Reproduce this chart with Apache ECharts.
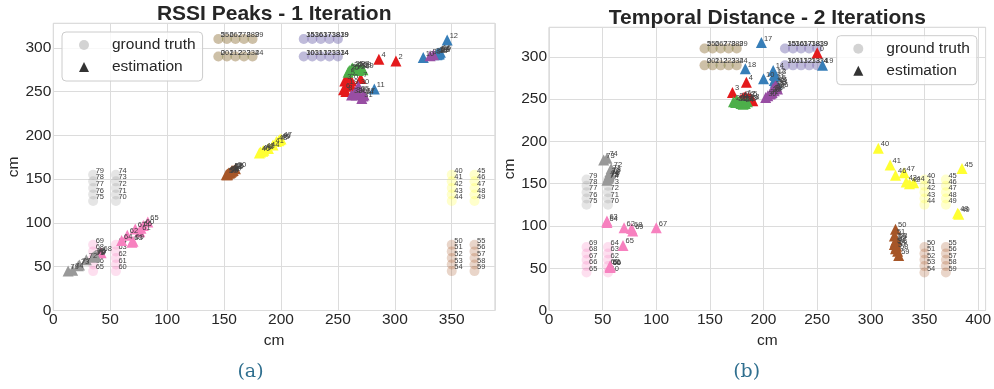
<!DOCTYPE html>
<html>
<head>
<meta charset="utf-8">
<script src="https://cdn.jsdelivr.net/npm/echarts@6/dist/echarts.min.js"></script>
<style>
  html, body { margin: 0; padding: 0; background: #ffffff; }
  #chart { width: 994px; height: 389px; }
</style>
</head>
<body>
<div id="chart"></div>
<script>
// Ground-truth positions (cm) of points 0..79
const gtX = [
  145, 152.5, 160, 167.5, 175,   145, 152.5, 160, 167.5, 175,
  220, 227.5, 235, 242.5, 250,   220, 227.5, 235, 242.5, 250,
  145, 152.5, 160, 167.5, 175,   145, 152.5, 160, 167.5, 175,
  220, 227.5, 235, 242.5, 250,   220, 227.5, 235, 242.5, 250,
  350, 350, 350, 350, 350,       370, 370, 370, 370, 370,
  350, 350, 350, 350, 350,       370, 370, 370, 370, 370,
  55, 55, 55, 55, 55,            35, 35, 35, 35, 35,
  55, 55, 55, 55, 55,            35, 35, 35, 35, 35
];
const gtY = [
  290, 290, 290, 290, 290,       310, 310, 310, 310, 310,
  290, 290, 290, 290, 290,       310, 310, 310, 310, 310,
  290, 290, 290, 290, 290,       310, 310, 310, 310, 310,
  290, 290, 290, 290, 290,       310, 310, 310, 310, 310,
  155, 147.5, 140, 132.5, 125,   155, 147.5, 140, 132.5, 125,
  75, 67.5, 60, 52.5, 45,        75, 67.5, 60, 52.5, 45,
  45, 52.5, 60, 67.5, 75,        45, 52.5, 60, 67.5, 75,
  125, 132.5, 140, 147.5, 155,   125, 132.5, 140, 147.5, 155
];

// Estimated positions (cm), RSSI peaks, 1 iteration
const rssiX = [
  262, 258, 301, 256, 286, 259, 255, 270, 257, 262,
  325, 282, 346, 338, 339, 337, 340, 338, 339, 337,
  259, 260, 262, 265, 268, 263, 266, 268, 270, 272,
  268, 271, 262, 264, 272, 268, 266, 273, 334, 331,
  181, 193, 185, 184, 189, 198, 199, 200, 196, 182,
  160, 157, 155, 153, 156, 158, 154, 152, 157, 153,
  79, 76, 65, 69, 60, 83, 77, 72, 42, 70,
  37, 35, 29, 22, 17, 37, 36, 23, 36, 13
];
const rssiY = [
  262, 257, 285, 262, 287, 267, 252, 265, 250, 256,
  289, 253, 309, 293, 294, 292, 295, 294, 293, 293,
  272, 274, 276, 275, 274, 277, 276, 277, 276, 275,
  256, 242, 246, 247, 245, 249, 246, 246, 292, 291,
  180, 189, 183, 182, 185, 194, 195, 196, 193, 181,
  162, 159, 157, 156, 158, 160, 157, 155, 160, 155,
  97, 90, 86, 78, 80, 101, 94, 93, 66, 79,
  62, 61, 58, 51, 46, 63, 62, 52, 61, 45
];

// Estimated positions (cm), temporal distance, 2 iterations
const tempX = [
  250, 183, 186, 171, 184, 188, 179, 181, 190, 185,
  200, 210, 210, 211, 209, 212, 211, 198, 183, 255,
  172, 174, 176, 179, 181, 175, 177, 180, 183, 185,
  202, 204, 206, 208, 210, 212, 213, 209, 207, 211,
  307, 318, 336, 333, 340, 385, 323, 331, 381, 382,
  323, 322, 323, 324, 322, 323, 324, 323, 325, 326,
  57, 57, 70, 54, 54, 69, 57, 100, 77, 78,
  56, 57, 58, 51, 54, 55, 56, 54, 57, 55
];
const tempY = [
  305, 253, 252, 258, 270, 251, 250, 252, 248, 250,
  274, 272, 279, 278, 284, 268, 270, 317, 286, 290,
  247, 246, 246, 245, 244, 249, 247, 246, 245, 247,
  252, 254, 256, 258, 260, 265, 262, 263, 257, 266,
  192, 172, 150, 152, 151, 168, 160, 163, 115, 114,
  96, 88, 80, 84, 78, 82, 76, 73, 70, 65,
  52, 53, 98, 106, 104, 77, 51, 98, 97, 94,
  160, 164, 168, 178, 180, 156, 158, 154, 162, 157
];

const legendNames = ['ground truth', 'estimation'];
const titles = ['RSSI Peaks - 1 Iteration', 'Temporal Distance - 2 Iterations'];
const captions = ['(a)', '(b)'];

// one colour per group of ten points
const groupColors = ['#e41a1c', '#377eb8', '#4daf4a', '#984ea3', '#ffff33', '#a65628', '#f781bf', '#999999'];

const FONT = '"Liberation Sans", Arial, sans-serif';
const INK = '#262626';

const chart = echarts.init(document.getElementById('chart'), null, { renderer: 'canvas' });

function pointLabel() {
  return {
    show: true,
    position: ['50%', '50%'],
    offset: [2.5, 0],
    align: 'left',
    verticalAlign: 'bottom',
    formatter: p => String(p.data[2]),
    fontSize: 7.5,
    fontFamily: FONT,
    color: '#404040',
    opacity: 1
  };
}

function groupSeries(xs, ys, g, isGT, axis) {
  const data = [];
  for (let i = g * 10; i < g * 10 + 10; i++) data.push([xs[i], ys[i], i]);
  return {
    type: 'scatter',
    name: (isGT ? 'gt-' : 'est-') + g,
    xAxisIndex: axis,
    yAxisIndex: axis,
    symbol: isGT ? 'circle' : 'triangle',
    symbolSize: isGT ? 10 : 11,
    data: data,
    itemStyle: { color: groupColors[g], opacity: isGT ? 0.25 : 1 },
    label: pointLabel(),
    z: isGT ? 2 : 3,
    silent: true,
    animation: false
  };
}

const series = [];
[[rssiX, rssiY], [tempX, tempY]].forEach((est, axis) => {
  for (let g = 0; g < groupColors.length; g++) series.push(groupSeries(gtX, gtY, g, true, axis));
  for (let g = 0; g < groupColors.length; g++) series.push(groupSeries(est[0], est[1], g, false, axis));
});
// empty series that carry the legend entries
series.push({ type: 'scatter', name: legendNames[0], xAxisIndex: 0, yAxisIndex: 0, data: [], itemStyle: { color: '#c8c8c8' } });
series.push({ type: 'scatter', name: legendNames[1], xAxisIndex: 0, yAxisIndex: 0, data: [], itemStyle: { color: '#000000' } });

function valueAxis(axis, max, isX) {
  return {
    type: 'value',
    gridIndex: axis,
    min: 0,
    max: max,
    interval: 50,
    name: 'cm',
    nameLocation: 'middle',
    nameGap: isX ? 16 : 30,
    nameTextStyle: { fontSize: 15.5, color: INK, fontFamily: FONT },
    axisLine: { show: false },
    axisTick: { show: false },
    axisLabel: {
      fontSize: 15.5, color: INK, fontFamily: FONT,
      margin: isX ? 1 : 2,
      showMaxLabel: false
    },
    splitLine: { show: true, lineStyle: { color: '#dcdcdc', width: 1 } }
  };
}

function legendBox(left, top, padLeft) {
  return {
    orient: 'vertical',
    left: left,
    top: top,
    width: 'auto',
    itemWidth: 10,
    itemHeight: 10,
    itemGap: 4,
    padding: [4, 7, 5, padLeft],
    selectedMode: false,
    backgroundColor: 'rgba(255,255,255,0.8)',
    borderColor: '#cccccc',
    borderWidth: 1,
    borderRadius: 4,
    textStyle: { fontSize: 15.5, color: INK, fontFamily: FONT, padding: [0, 0, 0, 18], lineHeight: 18 },
    data: [
      { name: legendNames[0], icon: 'circle', itemStyle: { color: '#c8c8c8' } },
      { name: legendNames[1], icon: 'triangle', itemStyle: { color: '#000000' } }
    ]
  };
}

const option = {
  backgroundColor: '#ffffff',
  animation: false,
  title: [
    { text: titles[0], left: 274.2, top: 14, textAlign: 'center', textVerticalAlign: 'middle', padding: 0,
      textStyle: { fontSize: 21, fontWeight: 'bold', color: INK, fontFamily: FONT } },
    { text: titles[1], left: 767.3, top: 18.5, textAlign: 'center', textVerticalAlign: 'middle', padding: 0,
      textStyle: { fontSize: 21, fontWeight: 'bold', color: INK, fontFamily: FONT } },
    { text: captions[0], left: 250.5, top: 372, textAlign: 'center', textVerticalAlign: 'middle', padding: 0,
      textStyle: { fontSize: 19, fontWeight: 'normal', color: '#2f6f8f', fontFamily: '"DejaVu Serif", serif' } },
    { text: captions[1], left: 746.7, top: 372, textAlign: 'center', textVerticalAlign: 'middle', padding: 0,
      textStyle: { fontSize: 19, fontWeight: 'normal', color: '#2f6f8f', fontFamily: '"DejaVu Serif", serif' } }
  ],
  grid: [
    { left: 53.3, top: 23.3, width: 441.7, height: 287.2, show: true, borderColor: '#cccccc', borderWidth: 1, backgroundColor: 'transparent' },
    { left: 549, top: 27.3, width: 436.7, height: 283.2, show: true, borderColor: '#cccccc', borderWidth: 1, backgroundColor: 'transparent' }
  ],
  xAxis: [valueAxis(0, 388, true), valueAxis(1, 407, true)],
  yAxis: [valueAxis(0, 328, false), valueAxis(1, 335, false)],
  legend: [legendBox(62, 32, 17), legendBox(836.7, 35.7, 16.6)],
  series: series
};

chart.setOption(option);
</script>
</body>
</html>
